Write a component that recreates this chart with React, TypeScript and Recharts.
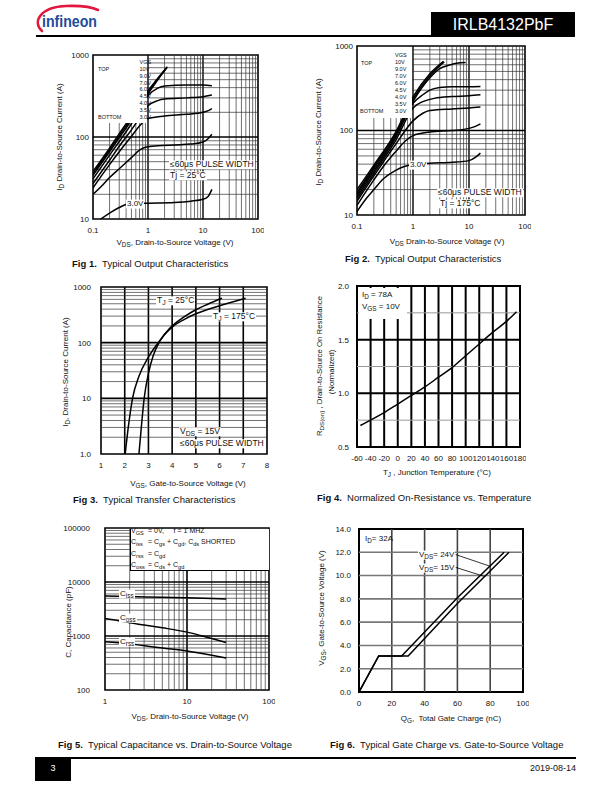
import type { CSSProperties, ReactNode } from 'react'
import { LineChart, Line, XAxis, YAxis, ReferenceLine, ReferenceArea } from 'recharts'

const FONT = '"Liberation Sans", Arial, Helvetica, sans-serif'

// ---------- data ----------

// Fig 1 – output characteristics, Tj = 25°C   [VDS (V), ID (A)]
const F1_LEGEND = ['10V', '9.0V', '7.0V', '6.0V', '4.5V', '4.0V', '3.5V', '3.0V']
const F1_10V = [[0.1, 38], [0.2, 73], [0.3, 110], [0.5, 180], [1, 365], [2.25, 720]]
const F1_9V0 = [[0.1, 36], [0.2, 70], [0.3, 104], [0.5, 170], [1, 350], [2.2, 700]]
const F1_7V0 = [[0.1, 34], [0.2, 66], [0.3, 98], [0.5, 160], [1, 335], [2.1, 680]]
const F1_6V0 = [[0.1, 31], [0.2, 60], [0.3, 88], [0.5, 145], [1, 320], [1.5, 395], [2, 420], [5, 430], [10, 430], [14.5, 422]]
const F1_4V5 = [[0.1, 27], [0.2, 52], [0.3, 77], [0.5, 122], [0.7, 170], [1, 240], [1.5, 278], [2, 290], [5, 300], [10, 310], [14.5, 325]]
const F1_4V0 = [[0.1, 24], [0.2, 46], [0.3, 66], [0.5, 102], [0.7, 136], [1, 168], [2, 180], [5, 189], [10, 200], [12.5, 210], [14.5, 222]]
const F1_3V5 = [[0.1, 20], [0.15, 26], [0.2, 32], [0.3, 41], [0.5, 56], [0.7, 69], [0.9, 75], [1.5, 78], [3, 80], [6, 82], [10, 87], [12.5, 96], [14.5, 108]]
const F1_3V0 = [[0.12, 9.3], [0.2, 11.8], [0.3, 13.8], [0.4, 15], [0.6, 15.4], [1, 15.6], [3, 15.9], [6, 16.5], [10, 17.4], [12.5, 19], [14.5, 23]]

// Fig 2 – output characteristics, Tj = 175°C
const F2_10V = [[0.1, 20], [0.2, 39], [0.5, 98], [1, 250], [2, 470], [3.5, 660]]
const F2_9V0 = [[0.1, 18.5], [0.2, 37], [0.5, 93], [1, 235], [2, 445], [3.6, 650]]
const F2_7V0 = [[0.1, 17.5], [0.2, 35], [0.5, 88], [1, 220], [2, 420], [3, 540], [4.7, 600], [6, 625], [8.7, 640]]
const F2_6V0 = [[0.1, 16.5], [0.2, 33], [0.5, 84], [1, 210], [1.5, 265], [2, 300], [3, 322], [5, 330], [10, 330], [16, 332]]
const F2_4V5 = [[0.1, 15.5], [0.2, 31], [0.5, 78], [1, 185], [1.5, 220], [2.4, 240], [5, 252], [10, 258], [16, 265]]
const F2_4V0 = [[0.1, 14.5], [0.2, 29], [0.3, 43], [0.5, 70], [1, 130], [1.5, 160], [2, 172], [5, 180], [10, 185], [16, 190]]
const F2_3V5 = [[0.1, 13], [0.2, 26], [0.3, 38], [0.5, 57], [0.7, 73], [1, 87], [2, 96], [5, 100], [10, 106], [13, 112], [16, 120]]
const F2_3V0 = [[0.1, 11], [0.15, 16], [0.2, 20], [0.3, 27], [0.5, 34], [0.7, 37.5], [1, 39.5], [2, 41], [5, 42], [10, 44], [13, 48], [16, 54]]

// Fig 3 – transfer characteristics   [VGS (V), ID (A)]
const F3_TJ25 = [[2.02, 1], [2.15, 3], [2.33, 10], [2.6, 25], [3.0, 55], [3.5, 112], [4.0, 200], [4.5, 290], [5, 390], [5.5, 490], [6.1, 630]]
const F3_TJ175 = [[2.6, 1], [2.7, 3], [2.82, 10], [3.0, 28], [3.2, 58], [3.5, 110], [4.0, 190], [4.5, 260], [5, 330], [6, 460], [7.1, 630]]

// Fig 4 – normalized RDS(on) vs TJ
const F4_RDS = [[-55, 0.7], [-40, 0.75], [-20, 0.82], [0, 0.9], [20, 0.98], [40, 1.06], [60, 1.15], [80, 1.24], [100, 1.35], [120, 1.46], [140, 1.57], [160, 1.67], [175, 1.76]]

// Fig 5 – capacitance   [VDS (V), C (pF)]
const F5_CISS = [[1, 5500], [2, 5400], [5, 5200], [10, 5100], [20, 4950], [30, 4850]]
const F5_COSS = [[1, 2100], [1.5, 1900], [2, 1750], [3, 1600], [5, 1420], [10, 1180], [15, 1010], [20, 900], [30, 760]]
const F5_CRSS = [[1, 780], [2, 720], [3, 660], [5, 600], [10, 530], [20, 440], [30, 390]]

// Fig 6 – gate charge   [QG (nC), VGS (V)]
const F6_VDS24 = [[0, 0], [12, 3.1], [26, 3.1], [60, 8.1], [88.5, 12]]
const F6_VDS15 = [[0, 0], [12, 3.1], [30, 3.1], [60, 7.6], [91.5, 12]]

// ticks
const T_LOG_X = [0.1, 1, 10, 100]
const T_LOG_Y12 = [10, 100, 1000]
const T3_X = [1, 2, 3, 4, 5, 6, 7, 8]
const T3_Y = [1, 10, 100, 1000]
const T4_X = [-60, -40, -20, 0, 20, 40, 60, 80, 100, 120, 140, 160, 180]
const T4_Y = [0.5, 1, 1.5, 2]
const T5_X = [1, 10, 100]
const T5_Y = [100, 1000, 10000, 100000]
const T6_X = [0, 20, 40, 60, 80, 100]
const T6_Y = [0, 2, 4, 6, 8, 10, 12, 14]

// ---------- helpers ----------

type Pt = { x: number; y: number }
const pts = (a: number[][]): Pt[] => a.map(([x, y]) => ({ x, y }))

// 2..9 multiples of every decade between lo and hi (grid only)
function logMinor(lo: number, hi: number) {
  const out: number[] = []
  for (let d = lo; d < hi; d *= 10) for (let m = 2; m <= 9; m++) out.push(+(d * m).toPrecision(3))
  return out
}

interface Grid { values: number[]; width: number; color: string }

interface PlotProps {
  left: number; top: number; width: number; height: number
  xLog?: boolean; yLog?: boolean
  xDomain: [number, number]; yDomain: [number, number]
  xTicks: number[]; yTicks: number[]
  xFmt?: (v: number) => string; yFmt?: (v: number) => string
  xGrid: Grid[]; yGrid: Grid[]
  series: Pt[][]
  curve?: 'monotone' | 'linear'
  yGap?: number
  frame?: number
  children?: ReactNode
}

const YW = 50
const XH = 24
const PAD = 6

function Plot(p: PlotProps) {
  const tick = { fontSize: 8, fill: '#111', fontFamily: FONT }
  const gap = p.yGap ?? 6
  return (
    <div style={{ position: 'absolute', left: p.left - YW, top: p.top - PAD }}>
      <LineChart width={p.width + YW + PAD} height={p.height + PAD + XH}
        margin={{ top: PAD, right: PAD, bottom: 0, left: 0 }}>
        <XAxis dataKey="x" type="number" scale={p.xLog ? 'log' : 'linear'} domain={p.xDomain}
          allowDataOverflow ticks={p.xTicks} interval={0} tickFormatter={p.xFmt}
          axisLine={false} tickLine={false} tickSize={4} tickMargin={4} height={XH} tick={tick} />
        <YAxis type="number" scale={p.yLog ? 'log' : 'linear'} domain={p.yDomain}
          allowDataOverflow ticks={p.yTicks} interval={0} tickFormatter={p.yFmt}
          axisLine={false} tickLine={false} tickSize={2} tickMargin={gap - 2} width={YW} tick={tick} />
        {p.xGrid.flatMap((g, gi) => g.values.map(v => (
          <ReferenceLine key={`x${gi}-${v}`} x={v} stroke={g.color} strokeWidth={g.width} />
        )))}
        {p.yGrid.flatMap((g, gi) => g.values.map(v => (
          <ReferenceLine key={`y${gi}-${v}`} y={v} stroke={g.color} strokeWidth={g.width} />
        )))}
        <ReferenceArea x1={p.xDomain[0]} x2={p.xDomain[1]} y1={p.yDomain[0]} y2={p.yDomain[1]}
          fill="none" stroke="#000" strokeWidth={p.frame ?? 1.6} />
        {p.series.map((s, i) => (
          <Line key={i} data={s} dataKey="y" type={p.curve ?? 'monotone'} stroke="#000"
            strokeWidth={1.5} dot={false} activeDot={false} isAnimationActive={false} />
        ))}
        {p.children}
      </LineChart>
    </div>
  )
}

interface TxtProps {
  x: number; y: number; size?: number; anchor?: 'start' | 'middle' | 'end'
  rotate?: boolean; bold?: boolean; bg?: boolean; color?: string; children: ReactNode
}

function Txt({ x, y, size = 8, anchor = 'start', rotate, bold, bg, color = '#111', children }: TxtProps) {
  const tx = anchor === 'middle' ? '-50%' : anchor === 'end' ? '-100%' : '0'
  const style: CSSProperties = {
    position: 'absolute', left: x, top: y, whiteSpace: 'nowrap', lineHeight: 1.1,
    fontSize: size, fontWeight: bold ? 'bold' : 'normal', color,
    transform: rotate ? 'translate(-50%,-50%) rotate(-90deg)' : `translate(${tx},-50%)`,
    background: bg ? '#fff' : undefined, padding: bg ? '0 1px' : undefined,
  }
  return <div style={style}>{children}</div>
}

const Sub = ({ children }: { children: ReactNode }) => (
  <sub style={{ fontSize: '0.8em', verticalAlign: '-0.3em', lineHeight: 0 }}>{children}</sub>
)

const WhiteBox = ({ x, y, w, h, style }: { x: number; y: number; w: number; h: number; style?: CSSProperties }) => (
  <div style={{ position: 'absolute', left: x, top: y, width: w, height: h, background: '#fff', ...style }} />
)

function Caption({ x, y, n, text }: { x: number; y: number; n: number; text: string }) {
  return (
    <Txt x={x} y={y} size={9.5}>
      <b>Fig {n}.</b>&nbsp;&nbsp;{text}
    </Txt>
  )
}

const MINOR = '#333'
const fmt1 = (v: number) => v.toFixed(1)

// ---------- figures ----------

function OutputPlot({ left, top, w, h, data }: { left: number; top: number; w: number; h: number; data: number[][][] }) {
  return (
    <Plot left={left} top={top} width={w} height={h} xLog yLog
      xDomain={[0.1, 100]} yDomain={[10, 1000]} xTicks={T_LOG_X} yTicks={T_LOG_Y12}
      xGrid={[{ values: logMinor(0.1, 100), width: 0.7, color: MINOR }, { values: [1, 10], width: 1.4, color: '#000' }]}
      yGrid={[{ values: logMinor(10, 1000), width: 0.7, color: MINOR }, { values: [100], width: 1.4, color: '#000' }]}
      series={data.map(pts)} yGap={4} />
  )
}

function Fig1() {
  return (
    <>
      <OutputPlot left={93} top={55} w={165} h={164}
        data={[F1_10V, F1_9V0, F1_7V0, F1_6V0, F1_4V5, F1_4V0, F1_3V5, F1_3V0]} />
      <WhiteBox x={94} y={56} w={53} h={67} />
      <Txt x={98} y={69} size={5.5}>TOP</Txt>
      <Txt x={98} y={117} size={5.5}>BOTTOM</Txt>
      <Txt x={139.5} y={62} size={5.5}>VGS</Txt>
      {F1_LEGEND.map((v, i) => <Txt key={v} x={139.5} y={69 + i * 6.8} size={5.5}>{v}</Txt>)}
      <Txt x={126} y={204} size={8} bg>3.0V</Txt>
      <Txt x={169} y={165} size={8.5} bg>≤60μs PULSE WIDTH</Txt>
      <Txt x={169} y={175.5} size={8.5} bg>Tj = 25°C</Txt>
      <Txt x={175} y={243} size={8} anchor="middle">V<Sub>DS</Sub>, Drain-to-Source Voltage (V)</Txt>
      <Txt x={60} y={137} size={8} rotate>I<Sub>D</Sub> Drain-to-Source Current (A)</Txt>
      <Caption x={72} y={264} n={1} text="Typical Output Characteristics" />
    </>
  )
}

function Fig2() {
  return (
    <>
      <OutputPlot left={357} top={46} w={168} h={169}
        data={[F2_10V, F2_9V0, F2_7V0, F2_6V0, F2_4V5, F2_4V0, F2_3V5, F2_3V0]} />
      <WhiteBox x={358} y={47} w={54} h={71} />
      <Txt x={361} y={63} size={5.5}>TOP</Txt>
      <Txt x={360} y={111} size={5.5}>BOTTOM</Txt>
      <Txt x={395} y={55} size={5.5}>VGS</Txt>
      {F1_LEGEND.map((v, i) => <Txt key={v} x={395} y={62 + i * 7} size={5.5}>{v}</Txt>)}
      <Txt x={409} y={165} size={8} bg>3.0V</Txt>
      <Txt x={437} y={193} size={8.5} bg>≤60μs PULSE WIDTH</Txt>
      <Txt x={439} y={203.5} size={8.5} bg>Tj = 175°C</Txt>
      <Txt x={447} y={242} size={8} anchor="middle">V<Sub>DS</Sub> Drain-to-Source Voltage (V)</Txt>
      <Txt x={319} y={132} size={8} rotate>I<Sub>D</Sub> Drain-to-Source Current (A)</Txt>
      <Caption x={345} y={259} n={2} text="Typical Output Characteristics" />
    </>
  )
}

function Fig3() {
  return (
    <>
      <Plot left={101} top={287} width={166} height={167} yLog
        xDomain={[1, 8]} yDomain={[1, 1000]} xTicks={T3_X} yTicks={T3_Y}
        yFmt={v => (v === 1 ? '1.0' : String(v))}
        xGrid={[{ values: [2, 3, 4, 5, 6, 7], width: 1.6, color: '#000' }]}
        yGrid={[{ values: logMinor(1, 1000), width: 0.7, color: MINOR }, { values: [10, 100], width: 1.6, color: '#000' }]}
        series={[F3_TJ25, F3_TJ175].map(pts)} curve="monotone" yGap={10} />
      <Txt x={156} y={300.5} size={8.5} bg>T<Sub>J</Sub> = 25°C</Txt>
      <Txt x={212} y={316.5} size={8.5} bg>T<Sub>J</Sub> = 175°C</Txt>
      <Txt x={179} y={432} size={8.5} bg>V<Sub>DS</Sub> = 15V</Txt>
      <Txt x={179} y={444} size={8.5} bg>≤60μs PULSE WIDTH</Txt>
      <Txt x={188} y={484} size={8} anchor="middle">V<Sub>GS</Sub>, Gate-to-Source Voltage (V)</Txt>
      <Txt x={66} y={372} size={8} rotate>I<Sub>D</Sub>, Drain-to-Source Current (A)</Txt>
      <Caption x={73} y={500} n={3} text="Typical Transfer Characteristics" />
    </>
  )
}

function Fig4() {
  return (
    <>
      <Plot left={357} top={286} width={163} height={161}
        xDomain={[-60, 180]} yDomain={[0.5, 2]} xTicks={T4_X} yTicks={T4_Y} yFmt={fmt1}
        xGrid={[{ values: [-40, -20, 0, 20, 40, 60, 80, 100, 120, 140, 160], width: 2, color: '#000' }]}
        yGrid={[{ values: [0.75, 1.25, 1.75], width: 1, color: '#999' }, { values: [1, 1.5], width: 2, color: '#000' }]}
        series={[pts(F4_RDS)]} yGap={8} frame={2} />
      <WhiteBox x={358.5} y={287.5} w={48} h={31} />
      <Txt x={362} y={295} size={8}>I<Sub>D</Sub> = 78A</Txt>
      <Txt x={362} y={307} size={8}>V<Sub>GS</Sub> = 10V</Txt>
      <Txt x={437} y={473} size={8} anchor="middle">T<Sub>J</Sub> , Junction Temperature (°C)</Txt>
      <Txt x={320} y={366} size={7.8} rotate>R<Sub>DS(on)</Sub> , Drain-to-Source On Resistance</Txt>
      <Txt x={332} y={372} size={7.8} rotate>(Normalized)</Txt>
      <Caption x={317} y={498} n={4} text="Normalized On-Resistance vs. Temperature" />
    </>
  )
}

function Fig5() {
  const row = (y: number, a: ReactNode, b: ReactNode) => (
    <div style={{ position: 'absolute', left: 131, top: y, transform: 'translateY(-50%)', fontSize: 7, lineHeight: 1.1, whiteSpace: 'nowrap', color: '#111' }}>
      <span style={{ display: 'inline-block', width: 17 }}>{a}</span>{b}
    </div>
  )
  return (
    <>
      <Plot left={105} top={528} width={164} height={162} xLog yLog
        xDomain={[1, 100]} yDomain={[100, 100000]} xTicks={T5_X} yTicks={T5_Y}
        xGrid={[{ values: logMinor(1, 100), width: 0.7, color: MINOR }, { values: [10], width: 1.6, color: '#000' }]}
        yGrid={[{ values: logMinor(100, 100000), width: 0.7, color: MINOR }, { values: [1000, 10000], width: 1.6, color: '#000' }]}
        series={[F5_CISS, F5_COSS, F5_CRSS].map(pts)} yGap={15} />
      <WhiteBox x={129.7} y={529} w={138.5} h={41} style={{ borderLeft: '1px solid #000', borderBottom: '1px solid #000' }} />
      {row(531, <>V<Sub>GS</Sub></>, <>= 0V,&nbsp;&nbsp;&nbsp;&nbsp;&nbsp;f = 1 MHZ</>)}
      {row(542, <>C<Sub>iss</Sub></>, <>= C<Sub>gs</Sub> + C<Sub>gd</Sub>, C<Sub>ds</Sub> SHORTED</>)}
      {row(554, <>C<Sub>rss</Sub></>, <>= C<Sub>gd</Sub></>)}
      {row(565, <>C<Sub>oss</Sub></>, <>= C<Sub>ds</Sub> + C<Sub>gd</Sub></>)}
      <Txt x={119} y={594} size={8} bg>C<Sub>iss</Sub></Txt>
      <Txt x={119} y={618} size={8} bg>C<Sub>oss</Sub></Txt>
      <Txt x={119} y={642} size={8} bg>C<Sub>rss</Sub></Txt>
      <Txt x={190} y={717} size={8} anchor="middle">V<Sub>DS</Sub>, Drain-to-Source Voltage (V)</Txt>
      <Txt x={69} y={622} size={8} rotate>C, Capacitance (pF)</Txt>
      <Caption x={58} y={745} n={5} text="Typical Capacitance vs. Drain-to-Source Voltage" />
    </>
  )
}

function Fig6() {
  return (
    <>
      <Plot left={359} top={529} width={164} height={163}
        xDomain={[0, 100]} yDomain={[0, 14]} xTicks={T6_X} yTicks={T6_Y} yFmt={fmt1}
        xGrid={[{ values: [20, 40, 60, 80], width: 1.6, color: '#444' }]}
        yGrid={[{ values: [2, 4, 6, 8, 10, 12], width: 1.6, color: '#777' }]}
        series={[F6_VDS24, F6_VDS15].map(pts)} curve="linear" yGap={8} frame={2}>
        <ReferenceLine segment={[{ x: 59, y: 11.8 }, { x: 80, y: 10.8 }]} stroke="#000" strokeWidth={0.8} />
        <ReferenceLine segment={[{ x: 59, y: 10.7 }, { x: 77, y: 9.9 }]} stroke="#000" strokeWidth={0.8} />
      </Plot>
      <Txt x={365} y={539} size={8}>I<Sub>D</Sub>= 32A</Txt>
      <Txt x={418} y={555} size={8} bg>V<Sub>DS</Sub>= 24V</Txt>
      <Txt x={418} y={568} size={8} bg>V<Sub>DS</Sub>= 15V</Txt>
      <Txt x={451} y={719} size={8} anchor="middle">Q<Sub>G</Sub>,&nbsp; Total Gate Charge (nC)</Txt>
      <Txt x={322} y={608} size={8} rotate>V<Sub>GS</Sub>, Gate-to-Source Voltage (V)</Txt>
      <Caption x={330} y={745} n={6} text="Typical Gate Charge vs. Gate-to-Source Voltage" />
    </>
  )
}

function Header() {
  return (
    <>
      <svg style={{ position: 'absolute', left: 24, top: 0 }} width={100} height={36}>
        <path d="M 18 31 C 8 22, 16 7, 42 6 C 57 5.5, 68 7, 74 10" fill="none" stroke="#e3173e" strokeWidth={2.6} strokeLinecap="round" />
        <text x={18} y={27} fontFamily={FONT} fontWeight="bold" fontSize={17} fill="#1d4c9b"
          textLength={55} lengthAdjust="spacingAndGlyphs">infineon</text>
      </svg>
      <div style={{ position: 'absolute', left: 36, top: 35, width: 396, height: 2, background: '#000' }} />
      <div style={{ position: 'absolute', left: 431, top: 12, width: 144, height: 25, background: '#000' }} />
      <Txt x={503} y={24.5} size={16} anchor="middle" color="#fff">IRLB4132PbF</Txt>
      <div style={{ position: 'absolute', left: 35, top: 757, width: 541, height: 2, background: '#000' }} />
      <div style={{ position: 'absolute', left: 35, top: 757, width: 36, height: 24, background: '#000' }} />
      <Txt x={53} y={769} size={9} anchor="middle" color="#fff">3</Txt>
      <Txt x={576} y={769} size={9} anchor="end">2019-08-14</Txt>
    </>
  )
}

export default function App() {
  return (
    <div style={{ position: 'absolute', left: 0, top: 0, width: 612, height: 792, background: '#fff', fontFamily: FONT, overflow: 'hidden' }}>
      <Header />
      <Fig1 />
      <Fig2 />
      <Fig3 />
      <Fig4 />
      <Fig5 />
      <Fig6 />
    </div>
  )
}
